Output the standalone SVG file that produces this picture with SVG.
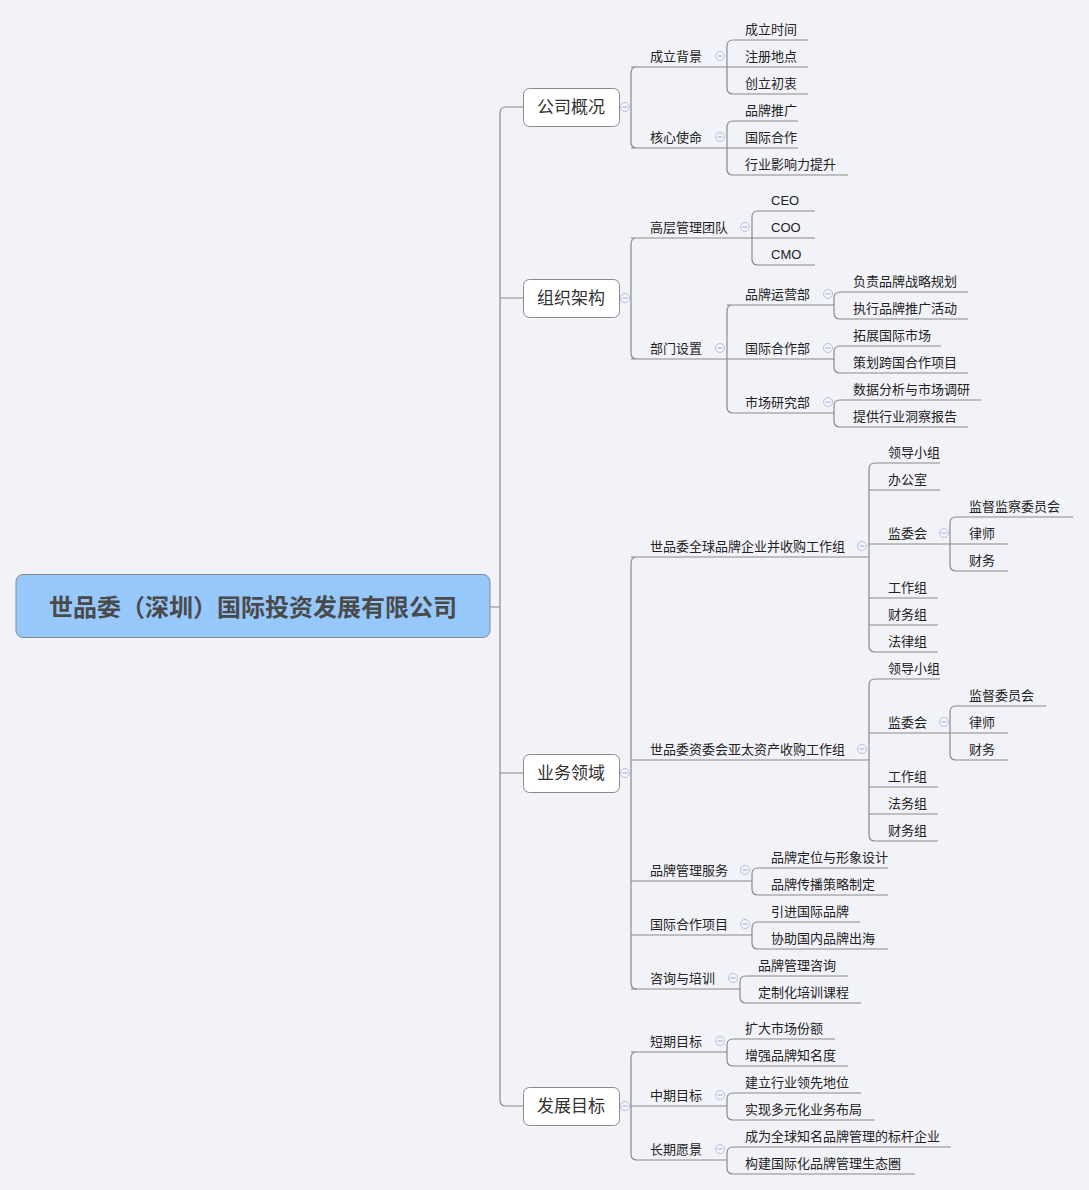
<svg xmlns="http://www.w3.org/2000/svg" width="1089" height="1190" viewBox="0 0 1089 1190">
<style>
.l{fill:none;stroke:#8a8a8a;stroke-width:1.2}
.t{font-family:"Liberation Sans","Noto Sans CJK SC",sans-serif;font-size:13px;fill:#222}
.b{fill:#fff;stroke:#8a8a8a;stroke-width:1}
.bt{font-family:"Liberation Sans","Noto Sans CJK SC",sans-serif;font-size:17px;fill:#333;text-anchor:middle}
.c{fill:#f4f5fb;stroke:#b4c0e4;stroke-width:1}
.m{stroke:#9aa8d8;stroke-width:1}
</style>
<defs>
<g id="col"><circle class="c" r="4.5"/><line class="m" x1="-2.5" x2="2.5" y1="0" y2="0"/></g>
</defs>
<rect width="1089" height="1190" fill="#f2f3f8"/>
<g id="connectors">
<path class="l" d="M490 607H500M523 107H506Q500 107 500 113V1100Q500 1106 506 1106H523M500 298H523M500 773H523"/>
<path class="l" d="M637 67Q631 67 631 73V142Q631 148 637 148M631 67H727M631 148H727"/>
<path class="l" d="M733 40Q727 40 727 46V88Q727 94 733 94M733 40H808M727 67H808M733 94H808"/>
<path class="l" d="M733 121Q727 121 727 127V169Q727 175 733 175M733 121H798M727 148H798M733 175H848"/>
<path class="l" d="M637 238Q631 238 631 244V353Q631 359 637 359M631 238H752M631 359H727"/>
<path class="l" d="M758 211Q752 211 752 217V259Q752 265 758 265M758 211H815M752 238H815M758 265H815"/>
<path class="l" d="M733 305Q727 305 727 311V407Q727 413 733 413M727 305H834M727 359H834M733 413H834"/>
<path class="l" d="M840 292Q834 292 834 298V313Q834 319 840 319M840 292H968M840 319H968"/>
<path class="l" d="M840 346Q834 346 834 352V367Q834 373 840 373M840 346H941M840 373H968"/>
<path class="l" d="M840 400Q834 400 834 406V421Q834 427 840 427M840 400H981M840 427H968"/>
<path class="l" d="M637 557Q631 557 631 563V983Q631 989 637 989M631 557H869M631 760H869M631 881H752M631 935H752"/>
<path class="l" d="M875 463Q869 463 869 469V646Q869 652 875 652M875 463H940M869 490H940M869 544H950M869 598H938M869 625H938M875 652H938"/>
<path class="l" d="M956 517Q950 517 950 523V565Q950 571 956 571M956 517H1073M950 544H1008M956 571H1008"/>
<path class="l" d="M875 679Q869 679 869 685V835Q869 841 875 841M875 679H940M869 733H950M869 787H938M869 814H938M875 841H938"/>
<path class="l" d="M956 706Q950 706 950 712V754Q950 760 956 760M956 706H1046M950 733H1008M956 760H1008"/>
<path class="l" d="M758 868Q752 868 752 874V889Q752 895 758 895M758 868H888M758 895H888"/>
<path class="l" d="M758 922Q752 922 752 928V943Q752 949 758 949M758 922H860M758 949H888"/>
<path class="l" d="M631 989H740M746 976Q740 976 740 982V997Q740 1003 746 1003M746 976H848M746 1003H861"/>
<path class="l" d="M637 1052Q631 1052 631 1058V1154Q631 1160 637 1160M631 1052H727M631 1106H727M637 1160H727"/>
<path class="l" d="M733 1039Q727 1039 727 1045V1060Q727 1066 733 1066M733 1039H835M733 1066H848"/>
<path class="l" d="M733 1093Q727 1093 727 1099V1114Q727 1120 733 1120M733 1093H861M733 1120H875"/>
<path class="l" d="M733 1147Q727 1147 727 1153V1168Q727 1174 733 1174M733 1147H951M733 1174H915"/>
</g>
<g id="root">
<rect x="16" y="574.5" width="474" height="63" rx="7" fill="#96c8fc" stroke="#8a8a8a"/>
<text x="253" y="616" font-family="'Liberation Sans','Noto Sans CJK SC',sans-serif" font-size="24" font-weight="bold" fill="#4a4a4a" text-anchor="middle">世品委（深圳）国际投资发展有限公司</text>
</g>
<g id="n-gsgk"><rect class="b" x="523.5" y="88.5" width="96" height="38" rx="6"/><text class="bt" x="571" y="113">公司概况</text><use href="#col" x="625" y="107"/></g>
<g id="n-zzjg"><rect class="b" x="523.5" y="279.5" width="96" height="38" rx="6"/><text class="bt" x="571" y="304">组织架构</text><use href="#col" x="625" y="298"/></g>
<g id="n-ywly"><rect class="b" x="523.5" y="754.5" width="96" height="38" rx="6"/><text class="bt" x="571" y="779">业务领域</text><use href="#col" x="625" y="773"/></g>
<g id="n-fzmb"><rect class="b" x="523.5" y="1087.5" width="96" height="38" rx="6"/><text class="bt" x="571" y="1112">发展目标</text><use href="#col" x="625" y="1106"/></g>
<g id="leaves">
<g id="n1"><text class="t" x="650" y="61">成立背景</text><use href="#col" x="720" y="56"/></g>
<g id="n2"><text class="t" x="745" y="34">成立时间</text></g>
<g id="n3"><text class="t" x="745" y="61">注册地点</text></g>
<g id="n4"><text class="t" x="745" y="88">创立初衷</text></g>
<g id="n5"><text class="t" x="650" y="142">核心使命</text><use href="#col" x="720" y="137"/></g>
<g id="n6"><text class="t" x="745" y="115">品牌推广</text></g>
<g id="n7"><text class="t" x="745" y="142">国际合作</text></g>
<g id="n8"><text class="t" x="745" y="169">行业影响力提升</text></g>
<g id="n9"><text class="t" x="650" y="232">高层管理团队</text><use href="#col" x="745" y="227"/></g>
<g id="n10"><text class="t" x="771" y="205">CEO</text></g>
<g id="n11"><text class="t" x="771" y="232">COO</text></g>
<g id="n12"><text class="t" x="771" y="259">CMO</text></g>
<g id="n13"><text class="t" x="650" y="353">部门设置</text><use href="#col" x="720" y="348"/></g>
<g id="n14"><text class="t" x="745" y="299">品牌运营部</text><use href="#col" x="828" y="294"/></g>
<g id="n15"><text class="t" x="853" y="286">负责品牌战略规划</text></g>
<g id="n16"><text class="t" x="853" y="313">执行品牌推广活动</text></g>
<g id="n17"><text class="t" x="745" y="353">国际合作部</text><use href="#col" x="828" y="348"/></g>
<g id="n18"><text class="t" x="853" y="340">拓展国际市场</text></g>
<g id="n19"><text class="t" x="853" y="367">策划跨国合作项目</text></g>
<g id="n20"><text class="t" x="745" y="407">市场研究部</text><use href="#col" x="828" y="402"/></g>
<g id="n21"><text class="t" x="853" y="394">数据分析与市场调研</text></g>
<g id="n22"><text class="t" x="853" y="421">提供行业洞察报告</text></g>
<g id="n23"><text class="t" x="650" y="551">世品委全球品牌企业并收购工作组</text><use href="#col" x="862" y="546"/></g>
<g id="n24"><text class="t" x="888" y="457">领导小组</text></g>
<g id="n25"><text class="t" x="888" y="484">办公室</text></g>
<g id="n26"><text class="t" x="888" y="538">监委会</text><use href="#col" x="944" y="533"/></g>
<g id="n27"><text class="t" x="969" y="511">监督监察委员会</text></g>
<g id="n28"><text class="t" x="969" y="538">律师</text></g>
<g id="n29"><text class="t" x="969" y="565">财务</text></g>
<g id="n30"><text class="t" x="888" y="592">工作组</text></g>
<g id="n31"><text class="t" x="888" y="619">财务组</text></g>
<g id="n32"><text class="t" x="888" y="646">法律组</text></g>
<g id="n33"><text class="t" x="650" y="754">世品委资委会亚太资产收购工作组</text><use href="#col" x="862" y="749"/></g>
<g id="n34"><text class="t" x="888" y="673">领导小组</text></g>
<g id="n35"><text class="t" x="888" y="727">监委会</text><use href="#col" x="944" y="722"/></g>
<g id="n36"><text class="t" x="969" y="700">监督委员会</text></g>
<g id="n37"><text class="t" x="969" y="727">律师</text></g>
<g id="n38"><text class="t" x="969" y="754">财务</text></g>
<g id="n39"><text class="t" x="888" y="781">工作组</text></g>
<g id="n40"><text class="t" x="888" y="808">法务组</text></g>
<g id="n41"><text class="t" x="888" y="835">财务组</text></g>
<g id="n42"><text class="t" x="650" y="875">品牌管理服务</text><use href="#col" x="745" y="870"/></g>
<g id="n43"><text class="t" x="771" y="862">品牌定位与形象设计</text></g>
<g id="n44"><text class="t" x="771" y="889">品牌传播策略制定</text></g>
<g id="n45"><text class="t" x="650" y="929">国际合作项目</text><use href="#col" x="745" y="924"/></g>
<g id="n46"><text class="t" x="771" y="916">引进国际品牌</text></g>
<g id="n47"><text class="t" x="771" y="943">协助国内品牌出海</text></g>
<g id="n48"><text class="t" x="650" y="983">咨询与培训</text><use href="#col" x="733" y="978"/></g>
<g id="n49"><text class="t" x="758" y="970">品牌管理咨询</text></g>
<g id="n50"><text class="t" x="758" y="997">定制化培训课程</text></g>
<g id="n51"><text class="t" x="650" y="1046">短期目标</text><use href="#col" x="720" y="1041"/></g>
<g id="n52"><text class="t" x="745" y="1033">扩大市场份额</text></g>
<g id="n53"><text class="t" x="745" y="1060">增强品牌知名度</text></g>
<g id="n54"><text class="t" x="650" y="1100">中期目标</text><use href="#col" x="720" y="1095"/></g>
<g id="n55"><text class="t" x="745" y="1087">建立行业领先地位</text></g>
<g id="n56"><text class="t" x="745" y="1114">实现多元化业务布局</text></g>
<g id="n57"><text class="t" x="650" y="1154">长期愿景</text><use href="#col" x="720" y="1149"/></g>
<g id="n58"><text class="t" x="745" y="1141">成为全球知名品牌管理的标杆企业</text></g>
<g id="n59"><text class="t" x="745" y="1168">构建国际化品牌管理生态圈</text></g>
</g>
</svg>
